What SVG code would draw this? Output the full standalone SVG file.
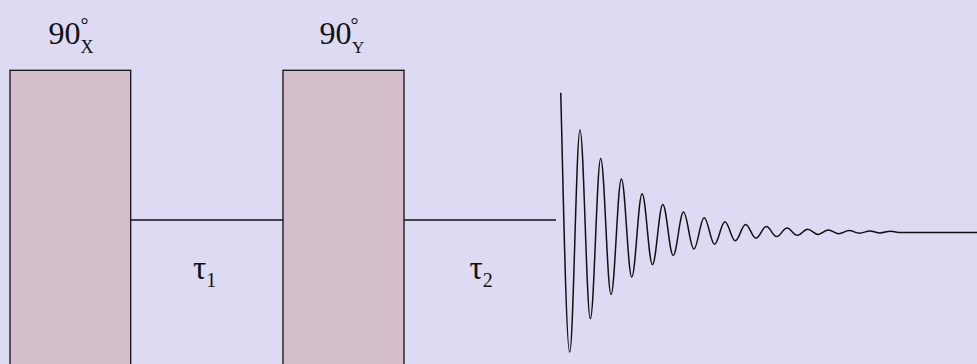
<svg xmlns="http://www.w3.org/2000/svg" width="977" height="364" viewBox="0 0 977 364">
<style>
.bg{fill:#dddaf3}
.pulse{fill:#d4becb;stroke:#111;stroke-width:1.3}
.wire{stroke:#111;stroke-width:1.4;fill:none}
.fid{stroke:#111;stroke-width:1.5;fill:none;stroke-linejoin:round}
.lbl{font-family:"Liberation Serif","Times New Roman",serif;fill:#111}
</style>
<rect class="bg" x="0" y="0" width="977" height="364"/>
<g id="connectors">
<line class="wire" x1="130.7" y1="220" x2="283" y2="220"/>
<line class="wire" x1="404" y1="220" x2="556" y2="220"/>
</g>
<g id="pulse-90x">
<rect class="pulse" x="10" y="70.3" width="120.7" height="300"/>
</g>
<g id="pulse-90y">
<rect class="pulse" x="283" y="70.3" width="121" height="300"/>
</g>
<g id="label-90x">
<text class="lbl" x="48.5" y="43.5" font-size="32">90<tspan x="80.5" y="32" font-size="20">°</tspan><tspan x="80.5" y="53" font-size="18">X</tspan></text>
</g>
<g id="label-90y">
<text class="lbl" x="319.5" y="43.5" font-size="32">90<tspan x="350.5" y="32" font-size="20">°</tspan><tspan x="352" y="52.5" font-size="17">Y</tspan></text>
</g>
<g id="tau1">
<text class="lbl" x="193" y="279" font-size="33">τ<tspan font-size="20" dy="7.5">1</tspan></text>
</g>
<g id="tau2">
<text class="lbl" x="469.5" y="279" font-size="33">τ<tspan font-size="20" dy="7.5">2</tspan></text>
</g>
<g id="fid">
<path class="fid" d="M560.7,92.7 C562,130 565.88,352.1 569.65,352.1
S576.23,130 580,130
S586.58,318.6 590.35,318.6
S596.93,158.5 600.7,158.5
S607.28,294.5 611.05,294.5
S617.63,179 621.4,179
S627.98,277 631.75,277
S638.33,193.8 642.1,193.8
S648.68,264.5 652.45,264.5
S659.03,204.4 662.8,204.4
S669.38,255.4 673.15,255.4
S679.73,212.1 683.5,212.1
S690.08,248.9 693.85,248.9
S700.43,217.7 704.2,217.7
S710.78,244.2 714.55,244.2
S721.13,221.7 724.9,221.7
S731.48,240.8 735.25,240.8
S741.83,224.5 745.6,224.5
S752.18,238.3 755.95,238.3
S762.53,226.6 766.3,226.6
S772.88,236.6 776.65,236.6
S783.23,228.1 787,228.1
S793.58,235.3 797.35,235.3
S803.93,229.2 807.7,229.2
S814.28,234.4 818.05,234.4
S824.63,230 828.4,230
S834.98,233.7 838.75,233.7
S845.33,230.6 849.1,230.6
S855.68,233.2 859.45,233.2
S866.03,231 869.8,231
S876.38,232.9 880.15,232.9
S886.73,231.2 890.5,231.2
S897.08,232.6 900.85,232.6
L977,232.6"/>
</g>
</svg>
